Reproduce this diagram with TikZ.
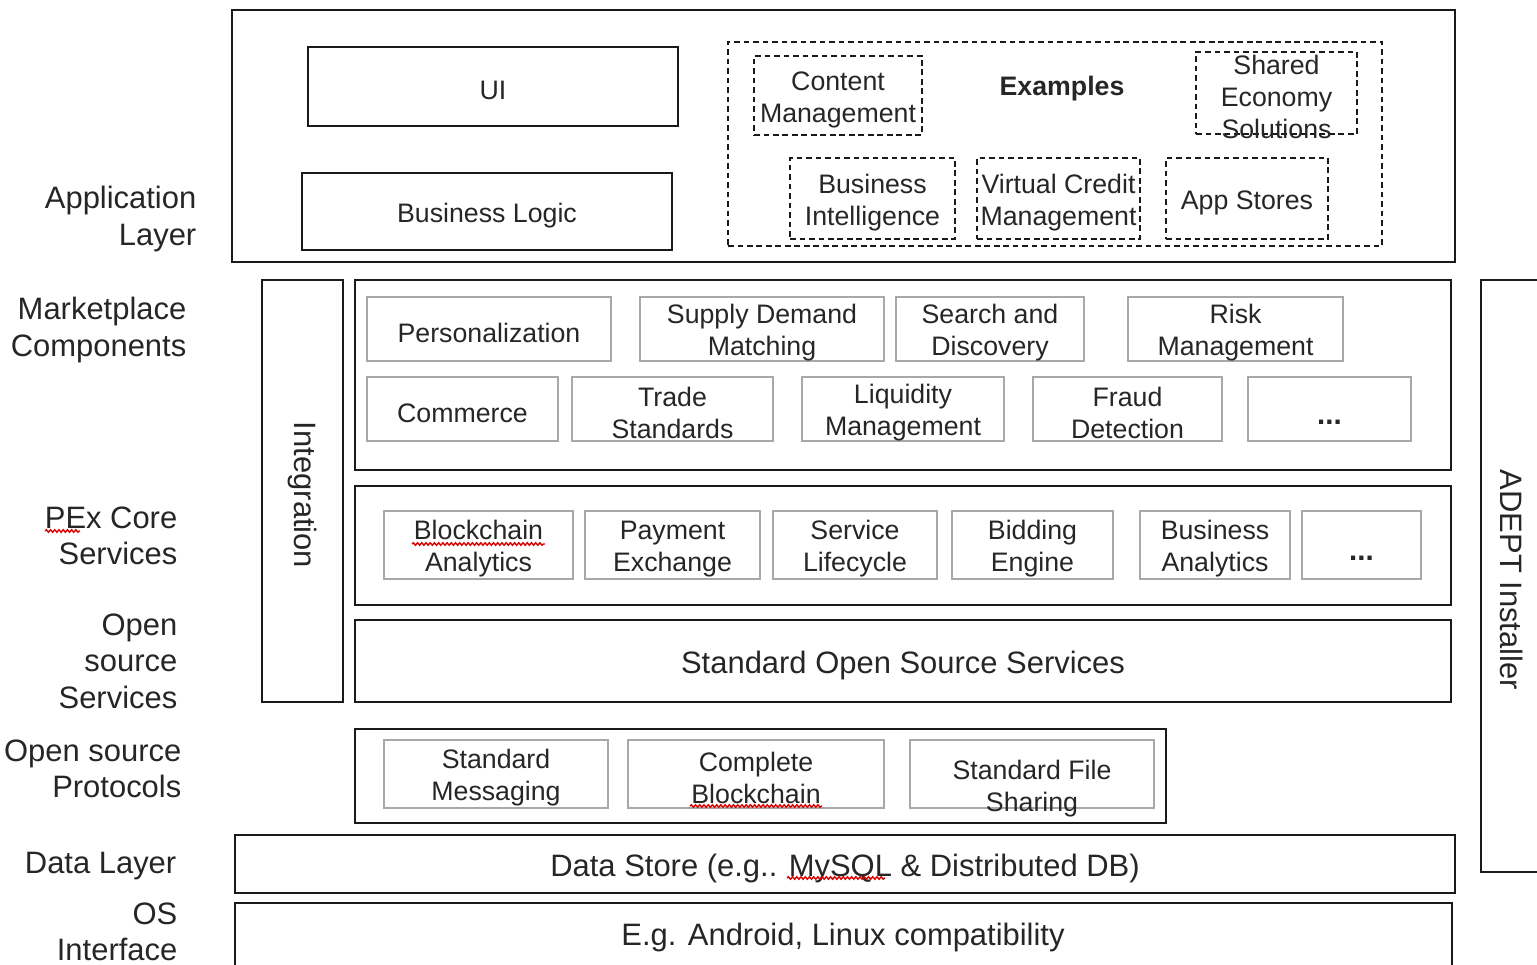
\documentclass[tikz,border=0pt]{standalone}
\usepackage{fontspec}
\setmainfont{Liberation Sans}
\usetikzlibrary{decorations.pathmorphing}
\definecolor{ink}{HTML}{262626}
\definecolor{frame}{HTML}{1A1A1A}
\definecolor{cell}{HTML}{A8A8A8}
\tikzset{
  layer/.style={draw=frame, line width=0.75pt, inner sep=0pt},
  cellbox/.style={draw=cell, line width=0.45pt, inner sep=0pt},
  dashbox/.style={draw=frame, line width=0.6pt, dash pattern=on 1.6pt off 1.1pt, inner sep=0pt},
  txt/.style={text=ink, align=center, inner sep=0pt, yshift=-0.4mm, font=\fontsize{7.6}{9.1}\selectfont},
  bigtxt/.style={text=ink, align=center, inner sep=0pt, yshift=-0.4mm, font=\fontsize{8.8}{10.4}\selectfont},
  dots/.style={text=ink, inner sep=0pt, yshift=-1.3mm, font=\fontsize{8.4}{9.1}\selectfont\bfseries},
  side/.style={text=ink, align=right, anchor=east, inner sep=0pt, yshift=-0.4mm, font=\fontsize{8.8}{10.4}\selectfont},
  spell/.style={draw=red!85!black, line width=0.4pt, decorate,
    decoration={snake, segment length=1.2pt, amplitude=0.35pt}},
}
% \pbox[text style]{box style}{name}{x1}{y1}{x2}{y2}{text}
\newcommand{\pbox}[8][txt]{%
  \node[#2, minimum width={(#6-#4)*0.01cm}, minimum height={(#7-#5)*0.01cm}]
    (#3) at ({(#4+#6)/2},{(#5+#7)/2}) {};
  \node[#1] (#3-text) at (#3.center) {#8};}

\begin{document}
\begin{tikzpicture}[x=0.01cm, y=-0.01cm]
\useasboundingbox (0,0) rectangle (1537,965);
\clip (0,0) rectangle (1537,965);

% ---------- application layer ----------
\pbox{layer}{app}{232}{10}{1455}{262}{}
\pbox{layer}{ui}{308}{47}{678}{126}{UI}
\pbox{layer}{logic}{302}{173}{672}{250}{Business Logic}
\pbox{dashbox}{examples}{728}{42}{1382}{246}{}
\node[txt, font=\fontsize{7.6}{9.1}\selectfont\bfseries] (examples-title) at (1062,85) {Examples};
\pbox{dashbox}{content}{754}{56}{922}{135}{Content\\Management}
\pbox{dashbox}{shared}{1196}{52}{1357}{134}{Shared\\Economy\\Solutions}
\pbox{dashbox}{bi}{790}{158}{955}{239}{Business\\Intelligence}
\pbox{dashbox}{vcm}{977}{158}{1140}{239}{Virtual Credit\\Management}
\pbox{dashbox}{appstores}{1166}{158}{1328}{239}{App Stores}

% ---------- integration column ----------
\pbox[bigtxt, rotate=-90]{layer}{integration}{262}{280}{343}{702}{Integration}

% ---------- marketplace components ----------
\pbox{layer}{market}{355}{280}{1451}{470}{}
\pbox{cellbox}{personal}{367}{297}{611}{361}{Personalization}
\pbox{cellbox}{supply}{640}{297}{884}{361}{Supply Demand\\Matching}
\pbox{cellbox}{search}{896}{297}{1084}{361}{Search and\\Discovery}
\pbox{cellbox}{risk}{1128}{297}{1343}{361}{Risk\\Management}
\pbox{cellbox}{commerce}{367}{377}{558}{441}{Commerce}
\pbox{cellbox}{trade}{572}{377}{773}{441}{Trade\\Standards}
\pbox{cellbox}{liquidity}{802}{377}{1004}{441}{Liquidity\\Management}
\pbox{cellbox}{fraud}{1033}{377}{1222}{441}{Fraud\\Detection}
\pbox[dots]{cellbox}{moreA}{1248}{377}{1411}{441}{...}

% ---------- PEx core services ----------
\pbox{layer}{core}{355}{486}{1451}{605}{}
\pbox{cellbox}{bcanalytics}{384}{511}{573}{579}{Blockchain\\Analytics}
\pbox{cellbox}{payment}{585}{511}{760}{579}{Payment\\Exchange}
\pbox{cellbox}{lifecycle}{773}{511}{937}{579}{Service\\Lifecycle}
\pbox{cellbox}{bidding}{952}{511}{1113}{579}{Bidding\\Engine}
\pbox{cellbox}{banalytics}{1140}{511}{1290}{579}{Business\\Analytics}
\pbox[dots]{cellbox}{moreB}{1302}{511}{1421}{579}{...}

% ---------- open source services ----------
\pbox[bigtxt]{layer}{oss}{355}{620}{1451}{702}{Standard Open Source Services}

% ---------- open source protocols ----------
\pbox{layer}{protocols}{355}{729}{1166}{823}{}
\pbox{cellbox}{messaging}{384}{740}{608}{808}{Standard\\Messaging}
\pbox{cellbox}{blockchain}{628}{740}{884}{808}{Complete\\Blockchain}
\pbox[txt, yshift=-1.1mm]{cellbox}{filesharing}{910}{740}{1154}{808}{Standard File\\Sharing}

% ---------- data layer and OS ----------
\pbox[bigtxt]{layer}{datastore}{235}{835}{1455}{893}{Data Store (e.g.. MySQL \& Distributed DB)}
\pbox{layer}{os}{235}{903}{1452}{1000}{}
\node[bigtxt] (os-text) at (843,933) {E.g. Android, Linux compatibility};

% ---------- installer column ----------
\pbox{layer}{adept}{1481}{280}{1600}{872}{}
\node[bigtxt, rotate=-90] (adept-text) at (1512,576) {ADEPT Installer};

% ---------- layer names ----------
\node[side] (l-app) at (197,215) {Application\\Layer};
\node[side] (l-market) at (187,326) {Marketplace\\Components};
\node[side] (l-core) at (178,532) {PEx Core\\Services};
\node[side] (l-oss) at (178,657) {Open\\source\\Services};
\node[side] (l-proto) at (182,765) {Open source\\Protocols};
\node[side] (l-data) at (177,862) {Data Layer};
\node[side] (l-os) at (178,928) {OS\\Interface};

% ---------- spell-check marks ----------
\draw[spell] (45,531) -- (80,531);
\draw[spell] (412,544) -- (545,544);
\draw[spell] (690,806) -- (822,806);
\draw[spell] (787,878) -- (885,878);
\end{tikzpicture}
\end{document}
